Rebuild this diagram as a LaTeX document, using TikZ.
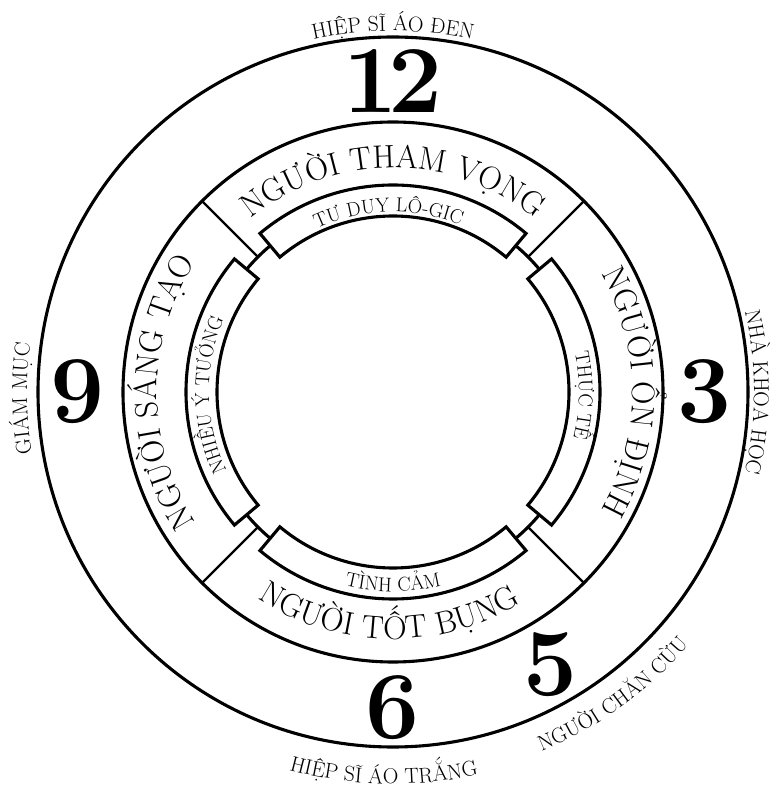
\documentclass[tikz,border=0pt]{standalone}
\usepackage{tikz}
\usetikzlibrary{decorations.text}

\newcommand{\outerfont}{\fontsize{21.5}{21.5}\selectfont}
\newcommand{\namefont}{\fontsize{32.5}{32.5}\selectfont}
\newcommand{\boxfont}{\fontsize{20}{20}\selectfont}

\begin{document}
\begin{tikzpicture}[line join=miter]
        % --- STILI ---
        \tikzset{
            ring/.style={line width=3.1pt},
            divider/.style={line width=2.2pt},
            arcbox/.style={line width=3.1pt, fill=white},
            numeral/.style={inner sep=0pt, font=\fontsize{96}{96}\selectfont\bfseries},
            along/.style={decorate, decoration={text along path, text align=center, text={#1}}}
        }

        \useasboundingbox (-393pt,-394pt) rectangle (389pt,392pt);

        % --- CERCHI ---
        \draw [ring] (0,0) circle [radius=355pt];
        \draw [ring] (0,0) circle [radius=270pt];
        \draw [ring] (0,0) circle [radius=191pt];

        % --- DIVISORI ---
        \foreach \a in {45,135,225,315}
            \draw [divider] (\a:191pt) -- (\a:270pt);

        % --- RIQUADRI INTERNI ---
        \foreach \a in {0,90,180,270}
            \draw [arcbox] (\a-40:176pt) arc [start angle=\a-40, end angle=\a+40, radius=176pt]
                -- (\a+40:207pt) arc [start angle=\a+40, end angle=\a-40, radius=207pt] -- cycle;

        % --- NUMERI ---
        \node [numeral] (num12) at (90:311pt) {1\kern-9pt2};
        \node [numeral] (num3) at (0:312pt) {3};
        \node [numeral] (num5) at (-60:315pt) {5};
        \node [numeral] (num6) at (270:316pt) {6};
        \node [numeral] (num9) at (180:315pt) {9};

        % --- ETICHETTE ESTERNE ---
        \path [along={|\outerfont|HIỆP SĨ ÁO ĐEN}] (170:361pt) arc [start angle=170, end angle=10, radius=361pt];
        \path [along={|\outerfont|NHÀ KHOA HỌC}] (80:361pt) arc [start angle=80, end angle=-80, radius=361pt];
        \path [along={|\outerfont|GIÁM MỤC}] (261:366pt) arc [start angle=261, end angle=101, radius=366pt];
        \path [along={|\outerfont|HIỆP SĨ ÁO TRẮNG}] (188.6:392pt) arc [start angle=188.6, end angle=348.6, radius=392pt];
        \path [along={|\outerfont|NGƯỜI CHĂN CỪU}] (226:389pt) arc [start angle=226, end angle=386, radius=389pt];

        % --- ANELLO DEI NOMI ---
        \path [along={|\namefont|NGƯỜI THAM VỌNG}] (160:224pt) arc [start angle=160, end angle=20, radius=224pt];
        \path [along={|\namefont|NGƯỜI ỔN ĐỊNH}] (70:239pt) arc [start angle=70, end angle=-70, radius=239pt];
        \path [along={|\namefont|NGƯỜI SÁNG TẠO}] (250:236pt) arc [start angle=250, end angle=110, radius=236pt];
        \path [along={|\namefont|NGƯỜI TỐT BỤNG}] (199:247pt) arc [start angle=199, end angle=339, radius=247pt];

        % --- TESTI NEI RIQUADRI ---
        \path [along={|\boxfont|TƯ DUY LÔ-GIC}] (151.5:180pt) arc [start angle=151.5, end angle=31.5, radius=180pt];
        \path [along={|\boxfont|THỰC TẾ}] (59:186pt) arc [start angle=59, end angle=-61, radius=186pt];
        \path [along={|\boxfont|NHIỀU Ý TƯỞNG}] (241:184pt) arc [start angle=241, end angle=121, radius=184pt];
        \path [along={|\boxfont|TÌNH CẢM}] (210:199.5pt) arc [start angle=210, end angle=330, radius=199.5pt];

    \end{tikzpicture}
\end{document}
